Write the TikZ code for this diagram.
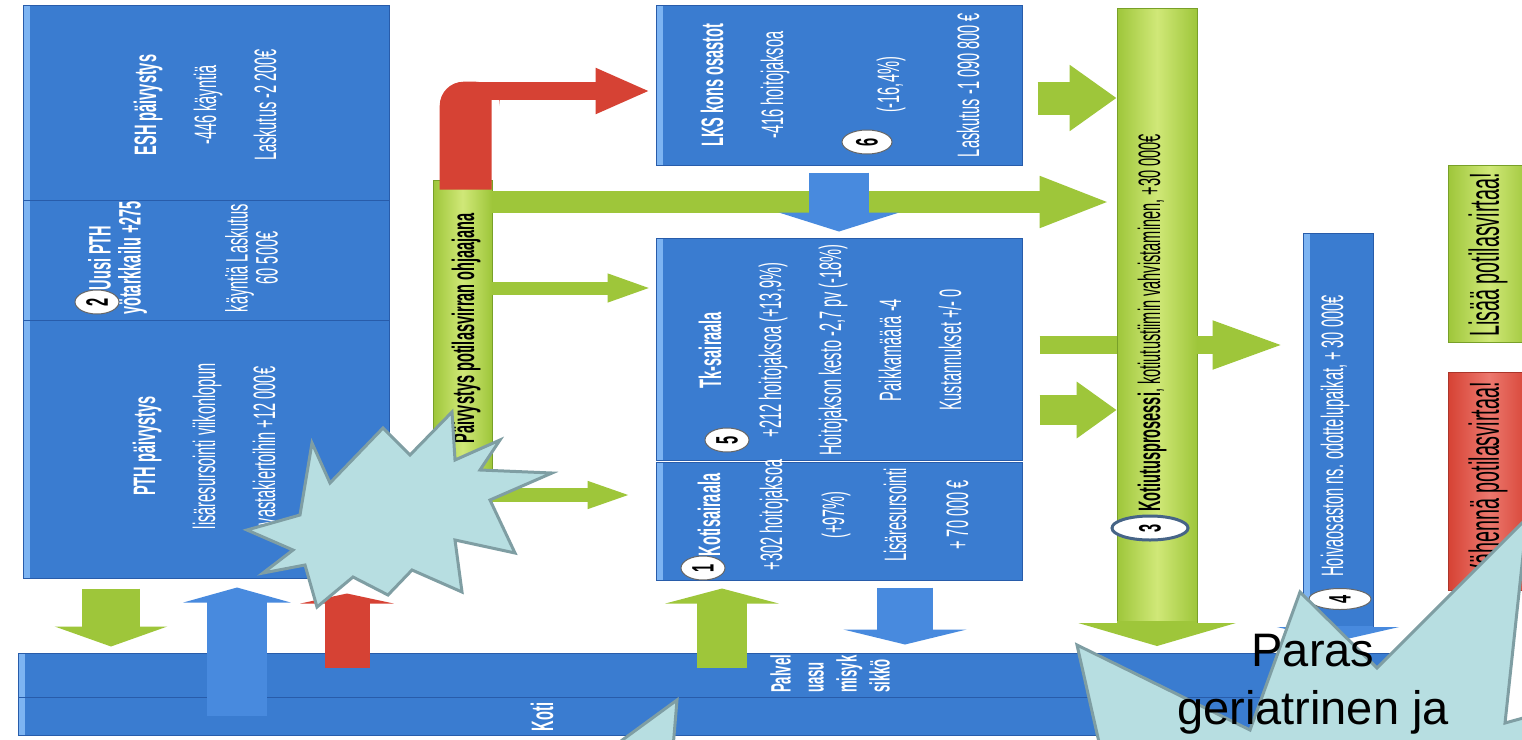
\documentclass[tikz,border=0pt]{standalone}
\usepackage{fontspec}
\setmainfont{Liberation Sans}
\newfontfamily\slimfont[FakeStretch=0.47]{Liberation Sans}
\usetikzlibrary{arrows.meta,shapes.geometric}
\definecolor{boxblue}{RGB}{58,124,208}
\definecolor{boxbluelt}{RGB}{125,180,242}
\definecolor{boxbluedk}{RGB}{40,92,170}
\definecolor{flowblue}{RGB}{72,138,222}
\definecolor{flowgreen}{RGB}{158,198,58}
\definecolor{flowgreenlt}{RGB}{208,232,120}
\definecolor{flowgreendk}{RGB}{120,160,40}
\definecolor{flowred}{RGB}{214,66,52}
\definecolor{flowredlt}{RGB}{236,120,110}
\definecolor{burstfill}{RGB}{183,222,225}
\definecolor{burstline}{RGB}{127,158,163}
\definecolor{ringblue}{RGB}{70,100,135}
\tikzset{
  bluebox/.style={rectangle,fill=boxblue,draw=boxbluedk,line width=1pt,inner sep=0pt,
    path picture={\fill[boxbluelt] (path picture bounding box.north west) rectangle ([xshift=7pt]path picture bounding box.south west);}},
  greenbox/.style={rectangle,left color=flowgreen,right color=flowgreen,middle color=flowgreenlt,draw=flowgreendk,line width=0.6pt,inner sep=0pt},
  redbox/.style={rectangle,left color=flowred,right color=flowred,middle color=flowredlt,draw=flowred!80!black,line width=0.6pt,inner sep=0pt},
  vtxt/.style={rotate=90,align=center,inner sep=0pt,text=white,font=\slimfont\fontsize{31}{60}\selectfont},
  numdisc/.style={ellipse,rotate=90,fill=white,draw=black!60,line width=1pt,minimum width=24pt,minimum height=44pt,inner sep=0pt,font=\slimfont\bfseries\fontsize{31}{31}\selectfont},
  gflow/.style={draw=flowgreen},
  bflow/.style={draw=flowblue},
  rflow/.style={draw=flowred},
  burst/.style={fill=burstfill,draw=burstline,line width=3pt,line join=miter}
}

\begin{document}
\begin{tikzpicture}[x=1pt,y=-1pt]
\useasboundingbox (0,0) rectangle (1522,739);
\fill[white] (0,0) rectangle (1522,739);

% emergency column
\node[bluebox,minimum width=366pt,minimum height=195pt] (esh) at (206,102.5) {};
\node[bluebox,minimum width=366pt,minimum height=120pt] (uusi) at (206,260) {};
\node[bluebox,minimum width=366pt,minimum height=258pt] (pth) at (206,449) {};

% home
\node[bluebox,minimum width=1382pt,minimum height=44pt] (kotiyla) at (709,675) {};
\node[bluebox,minimum width=1382pt,minimum height=38pt] (kotiala) at (709,716) {};

% wards
\node[bluebox,minimum width=366pt,minimum height=160pt] (lks) at (839,85) {};
\node[bluebox,minimum width=366pt,minimum height=222pt] (tk) at (839,349) {};
\node[bluebox,minimum width=366pt,minimum height=118pt] (kotis) at (839,521) {};

% bars
\node[greenbox,minimum width=59pt,minimum height=330pt] (pvbar) at (462.5,345) {};
\node[greenbox,minimum width=80pt,minimum height=615pt] (kot) at (1157,315.5) {};
\node[bluebox,minimum width=70pt,minimum height=394pt] (hv) at (1338,430) {};
\coordinate (kottip) at (1157,646);
\coordinate (hvtip) at (1338,641);

% legend
\node[greenbox,minimum width=82pt,minimum height=177pt] (lisaa) at (1489,253.5) {};
\node[redbox,minimum width=82pt,minimum height=218pt] (vahenna) at (1489,481) {};

% red flow to LKS
\fill[flowred] ([xshift=7pt,yshift=-10pt]pvbar.north west) [rounded corners=24pt]-- ++(0,-108) -- ++(60,0) [sharp corners]-- ++(0,18) -- ++(-8,0) -- ++(0,90) -- cycle;
\coordinate (redbend) at (470,91);
\draw[rflow,line width=18pt,shorten >=5pt,-{Triangle[width=42pt,length=55pt]}] (redbend) -- (lks.west |- redbend);

% flows out of the emergency bar
\draw[gflow,line width=22pt,shorten >=5pt,-{Triangle[width=46pt,length=72pt]}] (pvbar.east |- 0,202) -- (kot.west |- 0,202);
\draw[gflow,line width=13pt,shorten >=2pt,-{Triangle[width=25pt,length=46pt]}] (pvbar.east |- 0,288) -- (tk.west |- 0,288);
\draw[gflow,line width=14pt,shorten >=22pt,-{Triangle[width=24pt,length=46pt]}] (pvbar.east |- 0,495) -- (kotis.west |- 0,495);
\draw[bflow,line width=60pt,shorten <=7pt,shorten >=6pt,-{Triangle[width=120pt,length=19pt]}] (lks.south) -- (tk.north);

% flows to discharge
\draw[gflow,line width=33pt,shorten <=15pt,-{Triangle[width=63pt,length=47pt]}] (lks.east |- 0,98) -- (kot.west |- 0,98);
\draw[gflow,line width=30pt,shorten <=17pt,-{Triangle[width=54pt,length=40pt]}] (tk.east |- 0,410) -- (kot.west |- 0,410);
\draw[gflow,line width=18pt,shorten <=17pt] (tk.east |- 0,345) -- (kot.west |- 0,345);
\draw[gflow,line width=18pt,shorten >=16pt,-{Triangle[width=43pt,length=74pt]}] (kot.east |- 0,345) -- (hv.west |- 0,345);
\draw[gflow,line width=80pt,-{Triangle[width=157pt,length=23pt]}] ([yshift=2pt]kot.south) -- (kottip);
\draw[bflow,line width=70pt,-{Triangle[width=122pt,length=14pt]}] ([yshift=2pt]hv.south) -- (hvtip);

% flows from and to home
\draw[gflow,line width=58pt,shorten <=10pt,shorten >=6pt,-{Triangle[width=112pt,length=20pt]}] (pth.south -| 111,0) -- (kotiyla.north -| 111,0);
\draw[bflow,line width=60pt,shorten >=9pt,-{Triangle[width=107pt,length=15pt]}] (kotiala.center -| 237,0) -- (pth.south -| 237,0);
\draw[rflow,line width=45pt,shorten <=7pt,shorten >=15pt,-{Triangle[width=93pt,length=10pt]}] (kotiyla.center -| 347,0) -- (pth.south -| 347,0);
\draw[gflow,line width=50pt,shorten <=7pt,shorten >=8pt,-{Triangle[width=113pt,length=15pt]}] (kotiyla.center -| 722,0) -- (kotis.south -| 722,0);
\draw[bflow,line width=56pt,shorten <=7pt,shorten >=8pt,-{Triangle[width=123pt,length=15pt]}] (kotis.south -| 905,0) -- (kotiyla.north -| 905,0);

% texts
\node[vtxt] (eshtxt) at (205,105) {{\bfseries ESH päivystys}\\-446 käyntiä\\Laskutus -2 200€};
\node[vtxt,font=\slimfont\fontsize{31}{30}\selectfont] (uusitxt) at (183,258) {{\bfseries Uusi PTH}\\{\bfseries yötarkkailu +275}\\[77pt]käyntiä Laskutus\\60 500€};
\node[vtxt] (pthtxt) at (204,446) {{\bfseries PTH päivystys}\\lisäresursointi viikonlopun\\vastakiertoihin +12 000€};
\node[vtxt] (lkstxt) at (840,85) {{\bfseries LKS kons osastot}\\-416 hoitojaksoa\\[56pt](-16,4\%)\\[20pt]Laskutus -1 090 800 €};
\node[vtxt] (tktxt) at (830,350) {{\bfseries Tk-sairaala}\\+212 hoitojaksoa (+13,9\%)\\Hoitojakson kesto -2,7 pv (-18\%)\\Paikkamäärä -4\\Kustannukset +/- 0};
\node[vtxt,font=\slimfont\fontsize{31}{62}\selectfont] (kotistxt) at (833,515) {{\bfseries Kotisairaala}\\+302 hoitojaksoa\\(+97\%)\\Lisäresursointi\\+ 70 000 €};
\node[vtxt,font=\slimfont\bfseries\fontsize{31}{31}\selectfont] (kotitxt) at (542,717) {Koti};
\node[vtxt,anchor=west,align=left,font=\slimfont\bfseries\fontsize{28}{33}\selectfont] (palvtxt) at (830,693) {Palvel\\uasu\\misyk\\sikkö};
\node[vtxt,text=black] (pvtxt) at (466,328) {\bfseries Päivystys potilasvirran ohjaajana};
\node[vtxt,text=black] (kottxt) at (1152,323) {{\bfseries Kotiutusprosessi}, kotiutustiimin vahvistaminen, +30 000€};
\node[vtxt] (hvtxt) at (1335,436) {Hoivaosaston ns. odottelupaikat, + 30 000€};
\node[vtxt,text=black,font=\slimfont\fontsize{42}{42}\selectfont] (lisaatxt) at (1488,255) {Lisää potilasvirtaa!};
\node[vtxt,text=black,font=\slimfont\fontsize{42}{42}\selectfont] (vahtxt) at (1488,480) {Vähennä potilasvirtaa!};

% numbers
\node[numdisc] (n2) at (97,302) {2};
\node[numdisc] (n1) at (703,568) {1};
\node[numdisc] (n5) at (727,440) {5};
\node[numdisc,minimum height=50pt] (n6) at (867,142) {6};
\node[numdisc,draw=ringblue,line width=3pt,minimum height=76pt] (n3) at (1150,528) {3};
\node[numdisc,minimum height=62pt,minimum width=21pt] (n4) at (1340,599) {4};

% callouts
\begin{scope}
\clip (0,0) rectangle (1522,739);
\draw[burst] (247,530) -- (300,515) -- (312,443) -- (330,483) -- (383,428) -- (410,455) -- (452,412) -- (455,460) -- (500,440) -- (480,470) -- (552,473) -- (490,500) -- (515,553) -- (455,540) -- (462,592) -- (412,570) -- (388,595) -- (353,577) -- (317,607) -- (305,565) -- (263,573) -- (293,550) -- cycle;
\draw[burst] (1103,760) -- (1077,645) -- (1250,730) -- (1300,592) -- (1377,668) -- (1527,518) -- (1505,723) -- (1545,712) -- (1545,760) -- cycle;
\draw[burst] (595,760) -- (677,700) -- (672,760) -- cycle;
\end{scope}
\node[font=\fontsize{47}{58}\selectfont,align=center,anchor=north,inner sep=0pt] (parastxt) at (1313,634) {Paras\\geriatrinen ja};
\end{tikzpicture}
\end{document}
